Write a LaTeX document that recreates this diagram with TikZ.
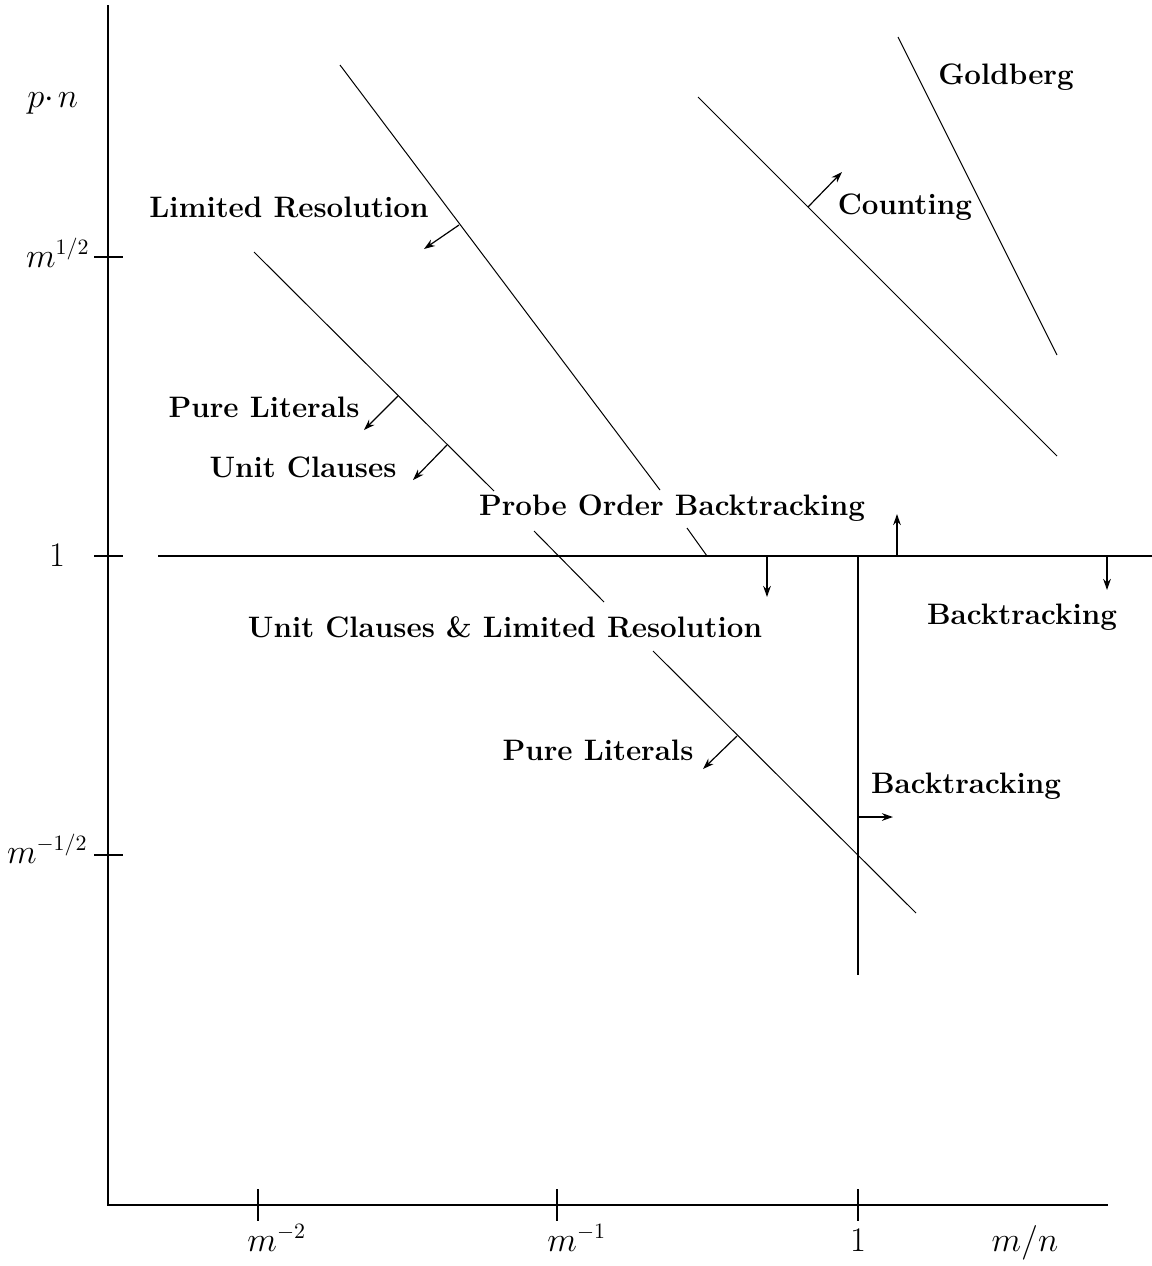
\documentclass[tikz,border=0pt]{standalone}
\usetikzlibrary{arrows.meta}
\begin{document}
\begin{tikzpicture}[x=0.5pt,y=-0.5pt,
  axis/.style={line width=1pt},
  curve/.style={line width=0.5pt},
  arr/.style={line width=0.6pt,-{Stealth[length=5.5pt,width=3.8pt]}},
  thickarr/.style={line width=1pt,-{Stealth[length=5.5pt,width=3.8pt]}},
  lab/.style={font=\fontsize{14.8}{17}\selectfont\bfseries, inner sep=0pt},
  mlab/.style={font=\fontsize{16}{19}\selectfont, inner sep=0pt}]
\useasboundingbox (0,0) rectangle (1152,1266);
% axes
\coordinate (ytop) at (108,5);
\coordinate (O) at (108,1205);
\coordinate (xend) at (1108,1205);
\draw[axis] (ytop) -- (O) -- (xend);
% x ticks
\foreach \x in {258,557,858} \draw[axis] (\x,1189) -- (\x,1221);
% y ticks
\foreach \y in {257,556,855} \draw[axis] (94,\y) -- (123,\y);
% axis labels
\node[mlab,anchor=base west] (pn) at (27,107) {$p{\cdot}\mkern2mu n$};
\node[mlab,anchor=base east] (yhalf) at (90,267) {$m^{1/2}$};
\node[mlab,anchor=base] (yone) at (57,566) {$1$};
\node[mlab,anchor=base east] (ymhalf) at (88,863) {$m^{-1/2}$};
\node[mlab,anchor=base west] (xm2) at (247,1251) {$m^{-2}$};
\node[mlab,anchor=base west] (xm1) at (547,1251) {$m^{-1}$};
\node[mlab,anchor=base] (xone) at (858,1251) {$1$};
\node[mlab,anchor=base] (xmn) at (1025,1251) {$m/n$};
% threshold lines
\coordinate (h1) at (158,556);
\coordinate (h2) at (1152,556);
\draw[axis] (h1) -- (h2);
\coordinate (v1) at (858,556);
\coordinate (v2) at (858,975);
\draw[axis] (v1) -- (v2);
% arrows on threshold lines
\draw[thickarr] (767,556) -- (767,597);
\draw[thickarr] (897,556) -- (897,514);
\draw[thickarr] (1107,556) -- (1107,590);
\draw[thickarr] (858,817) -- (893,817);
% limited resolution curve
\draw[curve] (340,65) -- (660,490);
\draw[curve] (687,528) -- (707,556);
\draw[arr] (459,225) -- (424,249);
% unit clauses / pure literals curve
\draw[curve] (254,252) -- (494,491);
\draw[curve] (534,531) -- (604,602);
\draw[curve] (653,651) -- (916,913);
\draw[arr] (398,396) -- (364,430);
\draw[arr] (447,445) -- (413,480);
\draw[arr] (737,736) -- (703,769);
% counting
\draw[curve] (698,97) -- (1057,456);
\draw[arr] (808,207) -- (842,172);
% goldberg
\draw[curve] (898,37) -- (1057,355);
% labels
\node[lab] (lr) at (289,207) {Limited Resolution};
\node[lab] (pl1) at (264,407) {Pure Literals};
\node[lab] (uc) at (303,467) {Unit Clauses};
\node[lab] (pob) at (672,508) {Probe Order Backtracking};
\node[lab] (uclr) at (505,627) {Unit Clauses \& Limited Resolution};
\node[lab] (pl2) at (598,750) {Pure Literals};
\node[lab] (cnt) at (905,207) {Counting};
\node[lab] (gb) at (1006,77) {Goldberg};
\node[lab] (bt1) at (1022,617) {Backtracking};
\node[lab] (bt2) at (966,786) {Backtracking};
\end{tikzpicture}
\end{document}
